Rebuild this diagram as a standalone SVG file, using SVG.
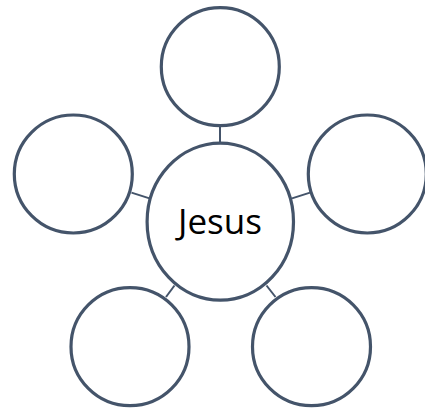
<svg xmlns="http://www.w3.org/2000/svg" width="425" height="411" viewBox="0 0 425 411">
<style>
.n{fill:#fff;stroke:#44546A;stroke-width:3.2}
.c{stroke:#44546A;stroke-width:2;fill:none}
.t{font-family:"Open Sans","Noto Sans",sans-serif;font-size:35px;fill:#000;text-anchor:middle}
</style>
<rect width="425" height="411" fill="#fff"/>
<g id="connectors">
<line class="c" x1="220" y1="126" x2="220" y2="143"/>
<line class="c" x1="131.5" y1="192.6" x2="149.5" y2="198.4"/>
<line class="c" x1="292" y1="198.4" x2="310" y2="192.6"/>
<line class="c" x1="166" y1="297" x2="174.5" y2="285.5"/>
<line class="c" x1="266.5" y1="285.5" x2="275.5" y2="297"/>
</g>
<g id="top"><circle class="n" cx="220.3" cy="66.7" r="59"/></g>
<g id="left"><circle class="n" cx="73.3" cy="174" r="59"/></g>
<g id="right"><circle class="n" cx="367.3" cy="174" r="59"/></g>
<g id="bottom-left"><circle class="n" cx="130" cy="346.7" r="59"/></g>
<g id="bottom-right"><circle class="n" cx="311.5" cy="346.7" r="59"/></g>
<g id="center"><ellipse class="n" cx="220.3" cy="221.7" rx="73.2" ry="78.5"/>
<text class="t" x="220" y="233.5">Jesus</text></g>
</svg>
